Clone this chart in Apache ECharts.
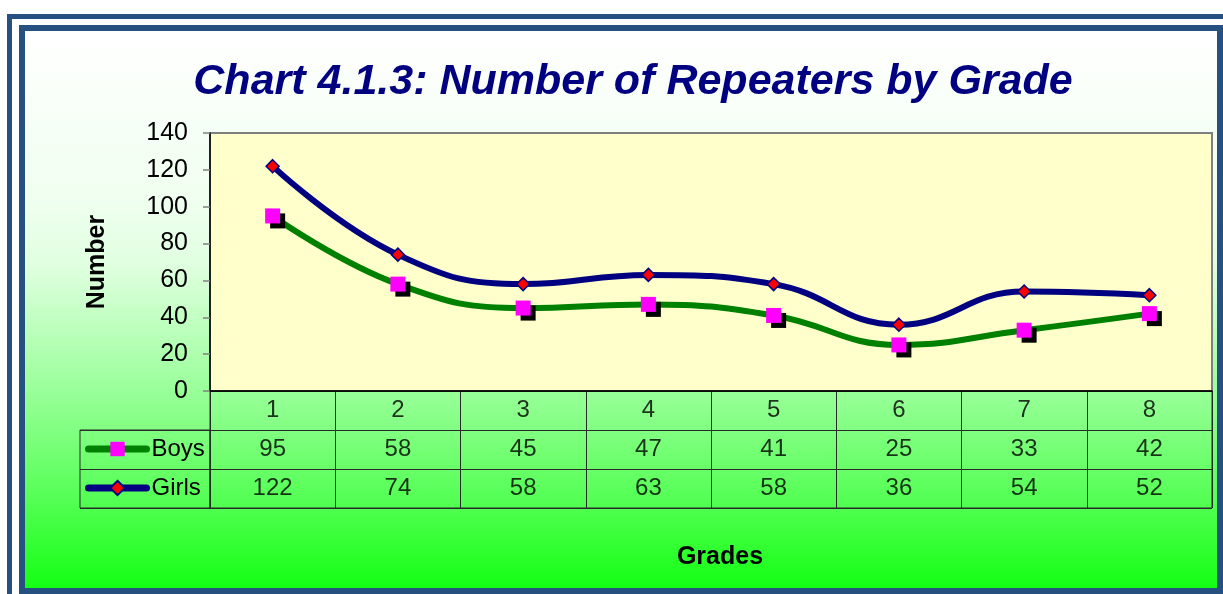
<!DOCTYPE html>
<html>
<head>
<meta charset="utf-8">
<script src="https://cdn.jsdelivr.net/npm/echarts@6/dist/echarts.min.js"></script>
<style>
  html, body { margin: 0; padding: 0; background: #ffffff; }
  #chart { width: 1223px; height: 594px; }
</style>
</head>
<body>
<div id="chart"></div>
<script>
// Repeaters per grade
const grades = ['1', '2', '3', '4', '5', '6', '7', '8'];
const boys = [95, 58, 45, 47, 41, 25, 33, 42];
const girls = [122, 74, 58, 63, 58, 36, 54, 52];
const yMin = 0, yMax = 140, yStep = 20;
const tableRows = ['grade', 'Boys', 'Girls'];

const FONT = "'Liberation Sans', Arial, sans-serif";
const FRAME = '#25507f';

// Cells of the data table under the plot: grade header row, then one row per series
const tableCells = [];
grades.forEach((g, i) => {
  tableCells.push([i, 0, g]);
  tableCells.push([i, 1, String(boys[i])]);
  tableCells.push([i, 2, String(girls[i])]);
});

const chart = echarts.init(document.getElementById('chart'), null, { renderer: 'canvas' });

chart.setOption({
  animation: false,
  textStyle: { fontFamily: FONT },
  graphic: [
    {
      type: 'rect', z: -10, silent: true,
      shape: { x: 25, y: 31, width: 1192, height: 557 },
      style: {
        fill: new echarts.graphic.LinearGradient(0, 0, 0, 1, [
          { offset: 0, color: '#ffffff' },
          { offset: 0.30, color: '#f0fff0' },
          { offset: 0.42, color: '#e0ffe0' },
          { offset: 0.60, color: '#a8ffa8' },
          { offset: 0.72, color: '#80ff80' },
          { offset: 0.84, color: '#55ff55' },
          { offset: 1, color: '#14ff14' }
        ])
      }
    },
    {
      type: 'rect', z: 100, silent: true,
      shape: { x: 9.5, y: 16.5, width: 1300, height: 700 },
      style: { fill: null, stroke: FRAME, lineWidth: 5 }
    },
    {
      type: 'rect', z: 100, silent: true,
      shape: { x: 22, y: 28, width: 1198, height: 563 },
      style: { fill: null, stroke: FRAME, lineWidth: 6 }
    },
    {
      type: 'text', z: 50, silent: true,
      style: {
        x: 633, y: 82, text: 'Chart 4.1.3: Number of Repeaters by Grade',
        fill: '#000080', font: "italic bold 43px 'Liberation Sans', Arial, sans-serif",
        align: 'center', verticalAlign: 'middle'
      }
    },
    {
      type: 'text', z: 50, silent: true,
      style: {
        x: 720, y: 557, text: 'Grades',
        fill: '#000000', font: "bold 25px 'Liberation Sans', Arial, sans-serif",
        align: 'center', verticalAlign: 'middle'
      }
    }
  ],
  legend: {
    data: ['Boys', 'Girls'],
    orient: 'vertical',
    left: 85,
    top: 437,
    padding: 0,
    itemWidth: 58,
    itemHeight: 18,
    itemGap: 15,
    selectedMode: false,
    textStyle: { fontSize: 24, color: '#000000', fontFamily: FONT },
    lineStyle: { width: 7, cap: 'round' },
    itemStyle: { shadowBlur: 0, shadowOffsetX: 0, shadowOffsetY: 0, shadowColor: 'rgba(0,0,0,0)' }
  },
  grid: [
    {
      left: 210, top: 133, width: 1002, height: 258,
      show: true, backgroundColor: '#ffffcc', borderColor: '#808080', borderWidth: 2
    },
    {
      left: 210, top: 391, width: 1002, height: 117,
      show: true, backgroundColor: 'transparent', borderColor: '#2a2a2a', borderWidth: 1
    },
    {
      left: 80, top: 430, width: 130, height: 78,
      show: true, backgroundColor: 'transparent', borderColor: '#2a2a2a', borderWidth: 1
    }
  ],
  xAxis: [
    {
      type: 'category', gridIndex: 0, data: grades, boundaryGap: true,
      axisLine: { show: true, lineStyle: { color: '#000000', width: 1.5 } },
      axisTick: { show: false }, axisLabel: { show: false }, splitLine: { show: false }
    },
    {
      type: 'category', gridIndex: 1, data: grades, boundaryGap: true,
      axisLine: { show: false }, axisTick: { show: false }, axisLabel: { show: false },
      splitLine: { show: true, lineStyle: { color: '#2a2a2a', width: 1 } }
    },
    {
      type: 'category', gridIndex: 2, data: ['key'],
      axisLine: { show: false }, axisTick: { show: false }, axisLabel: { show: false },
      splitLine: { show: false }
    }
  ],
  yAxis: [
    {
      type: 'value', gridIndex: 0, min: yMin, max: yMax, interval: yStep,
      name: 'Number', nameLocation: 'middle', nameGap: 100, nameRotate: 90,
      nameTextStyle: { fontSize: 25, fontWeight: 'bold', color: '#000000', fontFamily: FONT },
      axisLine: { show: true, lineStyle: { color: '#000000', width: 1.5 } },
      axisTick: { show: true, length: 7, lineStyle: { color: '#808080', width: 1.5 } },
      axisLabel: { fontSize: 25, color: '#000000', margin: 22, fontFamily: FONT },
      splitLine: { show: false }
    },
    {
      type: 'category', gridIndex: 1, data: tableRows, inverse: true,
      axisLine: { show: false }, axisTick: { show: false }, axisLabel: { show: false },
      splitLine: { show: true, lineStyle: { color: '#2a2a2a', width: 1 } }
    },
    {
      type: 'category', gridIndex: 2, data: ['Boys', 'Girls'], inverse: true,
      axisLine: { show: false }, axisTick: { show: false }, axisLabel: { show: false },
      splitLine: { show: true, lineStyle: { color: '#2a2a2a', width: 1 } }
    }
  ],
  series: [
    {
      name: 'Boys', type: 'line', xAxisIndex: 0, yAxisIndex: 0,
      data: boys, smooth: 0.45, z: 3,
      symbol: 'rect', symbolSize: 15,
      lineStyle: { color: '#008000', width: 6 },
      itemStyle: {
        color: '#ff00ff', borderWidth: 0,
        shadowColor: '#000000', shadowBlur: 0, shadowOffsetX: 5, shadowOffsetY: 5
      }
    },
    {
      name: 'Girls', type: 'line', xAxisIndex: 0, yAxisIndex: 0,
      data: girls, smooth: 0.45, z: 4,
      symbol: 'diamond', symbolSize: 13,
      lineStyle: { color: '#000080', width: 6 },
      itemStyle: { color: '#ff0000', borderColor: '#000080', borderWidth: 1.5 }
    },
    {
      name: 'table', type: 'scatter', xAxisIndex: 1, yAxisIndex: 1,
      data: tableCells, symbolSize: 1, silent: true,
      itemStyle: { color: 'rgba(0,0,0,0)' },
      label: {
        show: true, position: 'inside',
        formatter: p => p.value[2],
        fontSize: 24, color: '#000000', fontFamily: FONT
      }
    }
  ]
});
</script>
</body>
</html>
